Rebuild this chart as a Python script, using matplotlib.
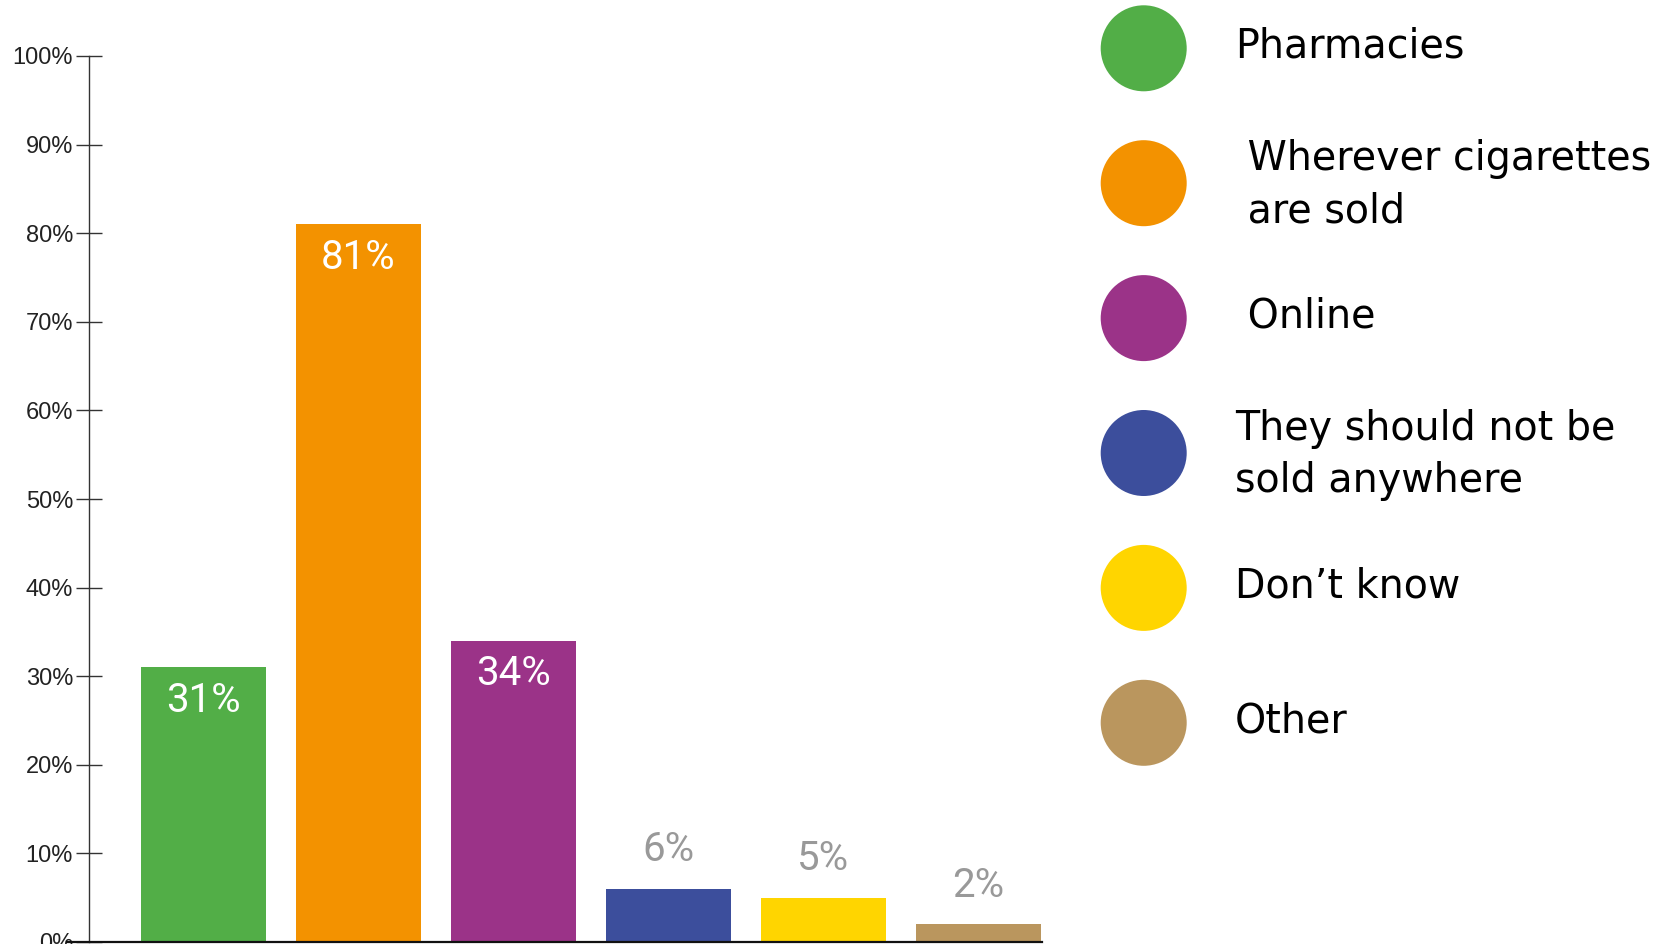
import matplotlib
matplotlib.use("Agg")
import matplotlib.pyplot as plt
from matplotlib.patches import Circle

# where e-cigarettes should be sold (share of respondents)
categories = [
    "Pharmacies",
    " Wherever cigarettes\n are sold",
    " Online",
    "They should not be\nsold anywhere",
    "Don’t know",
    "Other",
]
values = [31, 81, 34, 6, 5, 2]
colors = ["#52AE47", "#F39200", "#9B3388", "#3C4E9C", "#FFD500", "#BA965E"]
yticks = [0, 10, 20, 30, 40, 50, 60, 70, 80, 90, 100]

W, H = 1653, 944
fig = plt.figure(figsize=(W / 100, H / 100), dpi=100)

# bar chart area in pixel terms
left, right, top, bottom = 89, 1042, 56, 942
ax = fig.add_axes([left / W, (H - bottom) / H, (right - left) / W, (bottom - top) / H])

x = list(range(len(values)))
ax.bar(x, values, width=0.806, color=colors, zorder=2)
ax.set_xlim(-0.739, 5.41)
ax.set_ylim(0, 100)

for xi, v in zip(x, values):
    if v > 20:
        ax.annotate(f"{v}%", (xi, v), xytext=(0, -32), textcoords="offset points",
                    ha="center", va="baseline", color="white", fontsize=29,
                    family="Roboto", zorder=3)
    else:
        ax.annotate(f"{v}%", (xi, v), xytext=(0, 20), textcoords="offset points",
                    ha="center", va="baseline", color="#999999", fontsize=29,
                    family="Roboto", zorder=3)

for s in ["top", "right", "bottom"]:
    ax.spines[s].set_visible(False)
ax.spines["left"].set_color("#333333")
ax.spines["left"].set_linewidth(1.0)
ax.axhline(0, xmin=-0.023, xmax=1.0, color="#111111", lw=1.6, clip_on=False, zorder=4)

ax.set_xticks([])
ax.set_yticks(yticks)
ax.set_yticklabels([f"{t}%" for t in yticks], family="Liberation Sans", fontsize=17,
                   color="#222222")
ax.tick_params(axis="y", direction="inout", length=19, width=1.0, color="#333333", pad=2)

# legend drawn as circles plus labels in figure pixel space
lax = fig.add_axes([0, 0, 1, 1])
lax.set_xlim(0, W)
lax.set_ylim(H, 0)
lax.axis("off")
lax.patch.set_alpha(0)

cx, r, y0, step = 1143.7, 43, 48.3, 134.9
for i, (lab, c) in enumerate(zip(categories, colors)):
    cy = y0 + i * step
    nlines = lab.count("\n") + 1
    lax.add_patch(Circle((cx, cy), r, color=c, lw=0))
    lax.text(1235, cy - 1.5 + 3.5 * (nlines - 1), lab, ha="left", va="center",
             fontsize=28.5, family="DejaVu Sans", color="black", linespacing=1.4)

fig.savefig("out.png", dpi=100)
